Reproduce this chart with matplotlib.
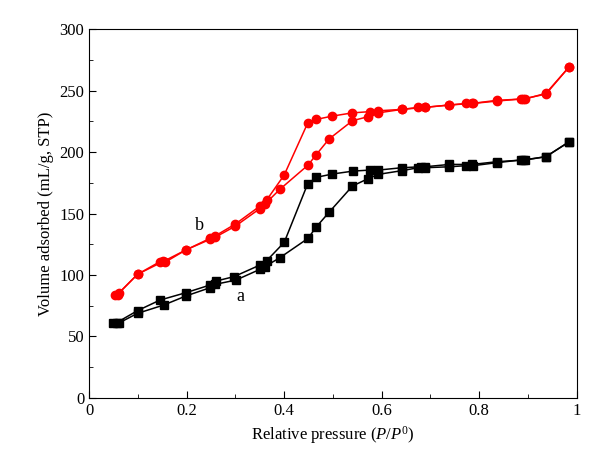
import matplotlib.pyplot as plt
from matplotlib.ticker import MultipleLocator

plt.rcParams['font.family'] = ['Liberation Serif', 'DejaVu Serif']
plt.rcParams['mathtext.fontset'] = 'custom'
plt.rcParams['mathtext.rm'] = 'Liberation Serif'
plt.rcParams['mathtext.it'] = 'Liberation Serif:italic'

# sample a - adsorption branch
a_ads_x = [0.049, 0.062, 0.099, 0.153, 0.198, 0.248, 0.258, 0.301, 0.350, 0.360,
           0.391, 0.449, 0.465, 0.492, 0.540, 0.572, 0.593, 0.641, 0.675, 0.689,
           0.739, 0.774, 0.788, 0.836, 0.885, 0.894, 0.937, 0.985]
a_ads_y = [61.1, 61.1, 68.7, 75.5, 82.8, 89.6, 92.3, 95.8, 104.5, 106.7,
           114.0, 129.8, 138.7, 151.0, 172.4, 178.4, 181.9, 184.9, 187.3, 187.3,
           188.1, 189.0, 189.0, 191.4, 193.6, 193.6, 196.3, 208.5]
# sample a - desorption branch
a_des_x = [0.985, 0.937, 0.890, 0.836, 0.786, 0.739, 0.689, 0.680, 0.641, 0.593,
           0.576, 0.542, 0.499, 0.466, 0.448, 0.400, 0.364, 0.350, 0.297, 0.260,
           0.248, 0.198, 0.145, 0.099, 0.056]
a_des_y = [208.5, 196.3, 193.6, 192.2, 190.0, 190.0, 188.1, 188.1, 187.3, 185.4,
           185.4, 184.6, 182.2, 179.5, 174.0, 126.5, 111.6, 108.0, 98.6, 95.0,
           91.8, 85.5, 79.5, 70.9, 61.1]

# sample b - adsorption branch
b_ads_x = [0.053, 0.060, 0.099, 0.145, 0.155, 0.198, 0.248, 0.258, 0.300, 0.350,
           0.360, 0.391, 0.449, 0.465, 0.492, 0.540, 0.572, 0.593, 0.641, 0.675,
           0.689, 0.739, 0.774, 0.788, 0.836, 0.885, 0.894, 0.937, 0.985]
b_ads_y = [83.6, 85.0, 100.5, 110.8, 110.2, 120.3, 129.0, 130.6, 139.8, 154.0,
           157.5, 169.7, 189.5, 197.6, 210.7, 225.6, 228.9, 232.0, 234.8, 236.5,
           236.5, 238.4, 239.7, 239.7, 241.6, 243.3, 243.3, 247.9, 269.6]
# sample b - desorption branch
b_des_x = [0.985, 0.937, 0.890, 0.836, 0.786, 0.739, 0.689, 0.641, 0.593, 0.576,
           0.540, 0.499, 0.466, 0.448, 0.400, 0.364, 0.350, 0.300, 0.258, 0.248,
           0.198, 0.152, 0.099, 0.058]
b_des_y = [269.6, 247.3, 243.3, 242.2, 239.7, 238.4, 236.5, 234.8, 233.7, 233.0,
           232.0, 229.4, 226.7, 223.5, 181.4, 161.0, 156.0, 141.5, 131.7, 129.8,
           120.3, 111.0, 100.5, 84.0]

fig = plt.figure(figsize=(6, 4.74), dpi=100)
ax = fig.add_axes([0.1488, 0.161, 0.8122, 0.777])

ax.plot(a_ads_x, a_ads_y, 'k-', marker='s', ms=5.3, lw=1.1)
ax.plot(a_des_x, a_des_y, 'k-', marker='s', ms=5.3, lw=1.1)
ax.plot(b_ads_x, b_ads_y, '-', color='#ff0000', marker='o', ms=6, lw=1.1)
ax.plot(b_des_x, b_des_y, '-', color='#ff0000', marker='o', ms=6, lw=1.1)

ax.text(0.227, 140.6, 'b', fontsize=13, ha='center', va='center')
ax.text(0.311, 82.3, 'a', fontsize=13, ha='center', va='center')

ax.set_xlim(0, 1)
ax.set_ylim(0, 300)
ax.xaxis.set_major_locator(MultipleLocator(0.2))
ax.xaxis.set_minor_locator(MultipleLocator(0.1))
ax.yaxis.set_major_locator(MultipleLocator(50))
ax.yaxis.set_minor_locator(MultipleLocator(25))
ax.xaxis.set_major_formatter(plt.FuncFormatter(lambda v, p: '%g' % round(v, 1)))
ax.tick_params(which='both', direction='in', top=False, right=False, labelsize=12)
ax.tick_params(which='major', length=5)
ax.tick_params(which='minor', length=3)

ax.set_xlabel(r'Relative pressure ($P$/$P^{\mathrm{0}}$)', fontsize=12)
ax.set_ylabel('Volume adsorbed (mL/g, STP)', fontsize=12)

fig.savefig('out.png', dpi=100)
